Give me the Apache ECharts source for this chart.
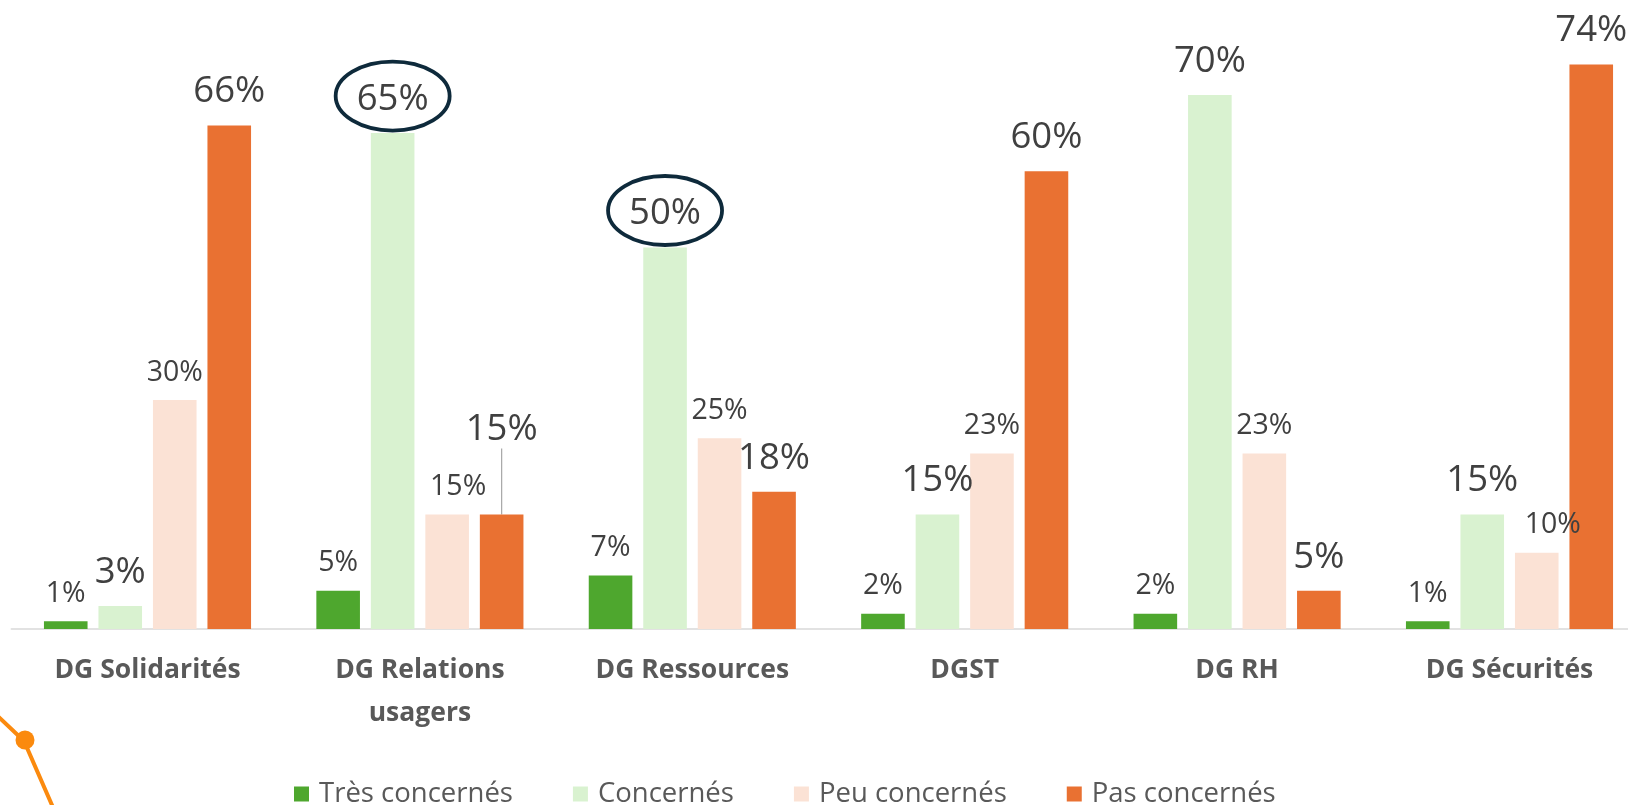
<!DOCTYPE html>
<html>
<head>
<meta charset="utf-8">
<script src="https://cdn.jsdelivr.net/npm/echarts@6/dist/echarts.min.js"></script>
<style>
html,body{margin:0;padding:0;background:#fff;}
#c{width:1628px;height:805px;}
</style>
</head>
<body>
<div id="c"></div>
<script>
// ---- data ----
const categories = ['DG Solidarités', 'DG Relations\nusagers', 'DG Ressources', 'DGST', 'DG RH', 'DG Sécurités'];
const seriesNames = ['Très concernés', 'Concernés', 'Peu concernés', 'Pas concernés'];
const tresConcernes = [1, 5, 7, 2, 2, 1];
const concernes = [3, 65, 50, 15, 70, 15];
const peuConcernes = [30, 15, 25, 23, 23, 10];
const pasConcernes = [66, 15, 18, 60, 5, 74];
const circledConcernes = [1, 2]; // category indexes whose "Concernés" label is circled

// ---- styles ----
const colors = ['#4ea72e', '#d9f2d0', '#fbe2d5', '#e97132'];
const labelSizes = [28.5, 36.5, 28.5, 36.5];
const labelDist = [13, 15, 13, 15];
const legendTextWidths = [198, 135.5, 187, null];
const FONT = '"Open Sans", sans-serif';

const allValues = [tresConcernes, concernes, peuConcernes, pasConcernes];

const chart = echarts.init(document.getElementById('c'), null, {renderer: 'canvas'});

const series = allValues.map((vals, si) => ({
  name: seriesNames[si],
  type: 'bar',
  barWidth: 43.6,
  barGap: '25%',
  itemStyle: {color: colors[si]},
  data: vals.map((v, ci) => {
    const item = {value: v};
    // nudged labels as in the original
    if (si === 2 && ci === 1) item.label = {offset: [11, 0]};
    if (si === 2 && ci === 5) item.label = {offset: [16, 0]};
    if (si === 3 && ci === 1) item.labelLine = {show: true, lineStyle: {color: '#a6a6a6', width: 1.2}};
    return item;
  }),
  label: {
    show: true,
    position: 'top',
    distance: labelDist[si],
    formatter: p => p.value + '%',
    fontFamily: FONT,
    fontSize: labelSizes[si],
    color: '#404040'
  },
  labelLine: {show: false},
  labelLayout: si === 3 ? function (p) {
    if (p.dataIndex === 1) return {dy: -51};
    return {};
  } : undefined,
  emphasis: {disabled: true}
}));

const option = {
  animation: false,
  backgroundColor: '#ffffff',
  grid: {left: 11.3, top: 18.6, width: 1634.4, height: 610.4, containLabel: false, outerBoundsMode: 'none'},
  xAxis: {
    type: 'category',
    data: categories,
    axisLine: {show: true, lineStyle: {color: '#d9d9d9', width: 1.5}},
    axisTick: {show: false},
    axisLabel: {
      interval: 0,
      margin: 20,
      fontFamily: FONT,
      fontWeight: 'bold',
      fontSize: 26.5,
      lineHeight: 43,
      color: '#595959'
    }
  },
  yAxis: {
    type: 'value',
    min: 0,
    max: 80,
    show: false,
    splitLine: {show: false}
  },
  legend: {
    data: seriesNames.map((n, i) => {
      const d = {name: n};
      if (legendTextWidths[i]) d.textStyle = {width: legendTextWidths[i]};
      return d;
    }),
    left: 294,
    top: 780,
    padding: 0,
    icon: 'rect',
    itemWidth: 15,
    itemHeight: 15,
    itemGap: 60,
    textStyle: {fontFamily: FONT, fontSize: 27.5, color: '#595959', padding: [0, 0, 0, 5]}
  },
  series: series
};

chart.setOption(option);

// ---- annotations: ellipses around circled labels + decorative line ----
function addGraphics() {
  const data = chart.getModel().getSeriesByIndex(1).getData();
  const graphics = [];
  circledConcernes.forEach(idx => {
    const lay = data.getItemLayout(idx);
    const cx = lay.x + lay.width / 2;
    const top = Math.min(lay.y, lay.y + lay.height);
    graphics.push({
      type: 'ellipse',
      shape: {cx: cx, cy: top - 37, rx: 57, ry: 34.5},
      style: {fill: 'none', stroke: '#0e2a3b', lineWidth: 3.8},
      silent: true, z: 100
    });
  });
  graphics.push({
    type: 'polyline',
    shape: {points: [[-12, 707], [24, 741], [55, 812]]},
    style: {fill: 'none', stroke: '#fb8a0e', lineWidth: 4},
    silent: true, z: 100
  });
  graphics.push({
    type: 'circle',
    shape: {cx: 25, cy: 740, r: 9.5},
    style: {fill: '#fb8a0e'},
    silent: true, z: 101
  });
  graphics.push({
    type: 'circle',
    shape: {cx: 94, cy: 815, r: 9.5},
    style: {fill: '#fb8a0e'},
    silent: true, z: 101
  });
  chart.setOption({graphic: graphics});
}
addGraphics();
</script>
</body>
</html>
